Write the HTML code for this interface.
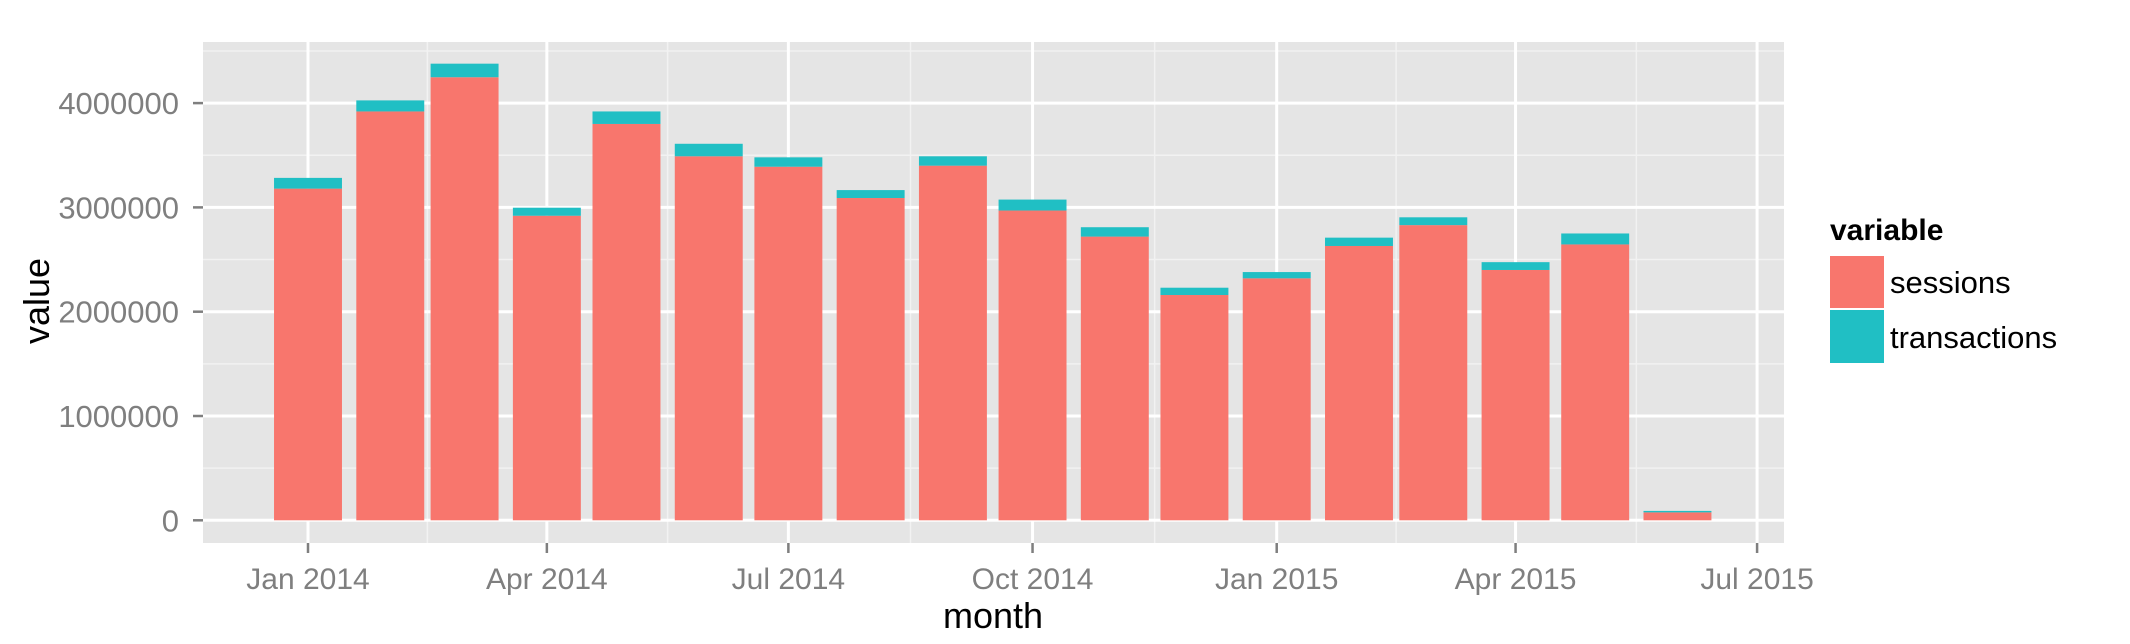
<!DOCTYPE html>
<html><head><meta charset="utf-8"><style>
html,body{margin:0;padding:0;background:#fff;}
svg{display:block;font-family:"Liberation Sans",sans-serif;}
</style></head><body>
<svg id="chart" width="2130" height="644" viewBox="0 0 2130 644" xmlns="http://www.w3.org/2000/svg">
<rect x="203" y="42" width="1581" height="501" fill="#e5e5e5"/>
<g id="grid"></g><g id="bars"></g><g id="axes"></g>
<text x="993" y="628" font-size="36" text-anchor="middle" fill="#000">month</text>
<text transform="translate(49,301) rotate(-90)" font-size="36" text-anchor="middle" fill="#000">value</text>
<g>
<text x="1830" y="240" font-size="30" font-weight="bold" fill="#000">variable</text>
<rect x="1830" y="256" width="54" height="52" fill="#f8766d"/>
<text x="1890" y="293" font-size="31" fill="#000">sessions</text>
<rect x="1830" y="310" width="54" height="53" fill="#20bfc4"/>
<text x="1890" y="348" font-size="31" fill="#000">transactions</text>
</g>
</svg>
<script>
const months = ["2014-01-01","2014-02-01","2014-03-01","2014-04-01","2014-05-01","2014-06-01","2014-07-01","2014-08-01","2014-09-01","2014-10-01","2014-11-01","2014-12-01","2015-01-01","2015-02-01","2015-03-01","2015-04-01","2015-05-01","2015-06-01"];
const sessions = [3180000,3920000,4248000,2920000,3800000,3490000,3390000,3090000,3400000,2970000,2720000,2160000,2320000,2630000,2830000,2400000,2645000,76000];
const transactions = [103000,106000,130000,77000,120000,120000,90000,76000,90000,105000,90000,70000,60000,80000,75000,75000,105000,14000];
const yTicks = [0,1000000,2000000,3000000,4000000];
const yTickLabels = ["0","1000000","2000000","3000000","4000000"];
const xTicks = ["2014-01-01","2014-04-01","2014-07-01","2014-10-01","2015-01-01","2015-04-01","2015-07-01"];
const xTickLabels = ["Jan 2014","Apr 2014","Jul 2014","Oct 2014","Jan 2015","Apr 2015","Jul 2015"];

const NS="http://www.w3.org/2000/svg";
const PL=203,PR=1784,PT=42,PB=543;
const day0=Date.UTC(2014,0,1);
function days(s){const p=s.split("-");return (Date.UTC(+p[0],+p[1]-1,+p[2])-day0)/86400000;}
function x(s){return 308+days(s)*2.654;}
function y(v){return 520.3-v/1000000*104.3;}
function mk(tag,attrs,parent){const e=document.createElementNS(NS,tag);for(const k in attrs)e.setAttribute(k,attrs[k]);parent.appendChild(e);return e;}
const grid=document.getElementById("grid"),bars=document.getElementById("bars"),axes=document.getElementById("axes");
for(let i=0;i<yTicks.length;i++){
  const v=yTicks[i]+500000; if(y(v)<PT)continue;
  const l=mk("line",{x1:PL,x2:PR,y1:y(v),y2:y(v),stroke:"#f2f2f2","stroke-width":1.5},grid);
  
  
}
for(let i=0;i<xTicks.length-1;i++){
  const xm=(x(xTicks[i])+x(xTicks[i+1]))/2;
  const l=mk("line",{x1:xm,x2:xm,y1:PT,y2:PB,stroke:"#f2f2f2","stroke-width":1.5},grid);
  
  
}
yTicks.forEach((v,i)=>{
  const l=mk("line",{x1:PL,x2:PR,y1:y(v),y2:y(v),stroke:"#fff","stroke-width":3},grid);
  
  
  const t=mk("line",{x1:PL-10,x2:PL,y1:y(v),y2:y(v),stroke:"#7f7f7f","stroke-width":2.5},axes);
  
  
  const tx=mk("text",{x:179,y:y(v)+11,"font-size":31,"text-anchor":"end",fill:"#7f7f7f"},axes);
  tx.textContent=yTickLabels[i];
  
  
});
xTicks.forEach((d,i)=>{
  const xv=x(d);
  const l=mk("line",{x1:xv,x2:xv,y1:PT,y2:PB,stroke:"#fff","stroke-width":3},grid);
  
  
  const t=mk("line",{x1:xv,x2:xv,y1:PB,y2:PB+10,stroke:"#7f7f7f","stroke-width":2.5},axes);
  
  
  const tx=mk("text",{x:xv,y:589,"font-size":30,"text-anchor":"middle",fill:"#7f7f7f"},axes);
  tx.textContent=xTickLabels[i];
  
  
});
const bw=25.6*2.654;
months.forEach((m,i)=>{
  const cx=x(m);
  const s=mk("rect",{x:cx-bw/2,y:y(sessions[i]),width:bw,height:y(0)-y(sessions[i]),fill:"#f8766d"},bars);
  
  
  const tot=sessions[i]+transactions[i];
  const t=mk("rect",{x:cx-bw/2,y:y(tot),width:bw,height:y(sessions[i])-y(tot),fill:"#20bfc4"},bars);
  
  
});
</script>
</body></html>
